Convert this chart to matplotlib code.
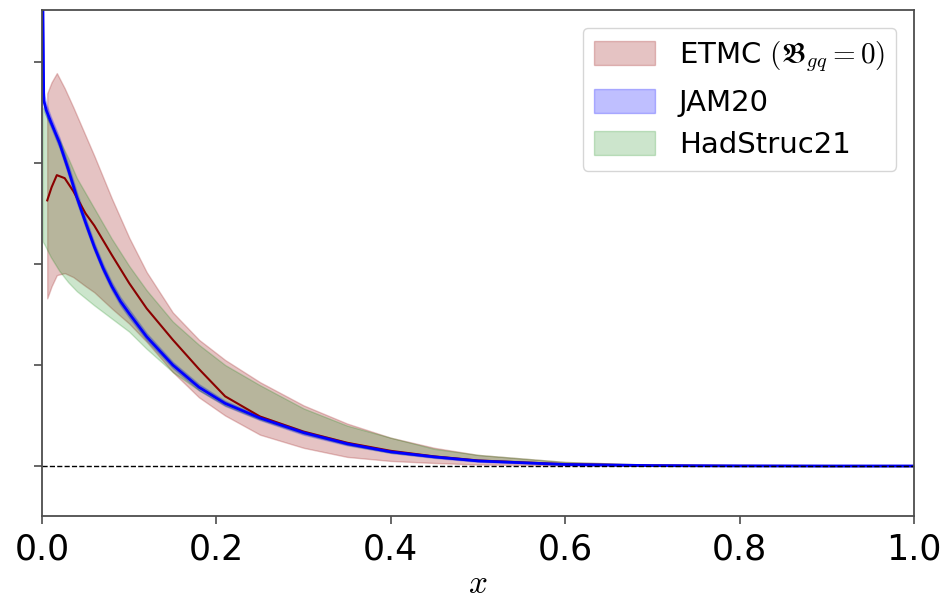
import matplotlib
matplotlib.use('Agg')
import matplotlib.pyplot as plt
import numpy as np

plt.rcParams['mathtext.fontset'] = 'cm'

# ETMC (B_gq = 0): band + central curve
x_etmc = [0.006, 0.011, 0.017, 0.026, 0.036, 0.05, 0.06, 0.08, 0.10, 0.12, 0.15, 0.18,
          0.21, 0.25, 0.30, 0.35, 0.40, 0.45, 0.50, 0.60, 0.70, 0.80, 0.90, 1.00]
etmc_mid = [2.63, 2.76, 2.88, 2.85, 2.72, 2.50, 2.38, 2.09, 1.81, 1.56, 1.25, 0.96,
            0.69, 0.49, 0.34, 0.23, 0.15, 0.095, 0.055, 0.018, 0.005, 0.001, 0.0, 0.0]
etmc_hi = [3.69, 3.80, 3.89, 3.74, 3.55, 3.27, 3.07, 2.65, 2.26, 1.92, 1.52, 1.25,
           1.05, 0.83, 0.60, 0.42, 0.28, 0.18, 0.11, 0.04, 0.012, 0.003, 0.0005, 0.0]
etmc_lo = [1.66, 1.78, 1.89, 1.91, 1.87, 1.78, 1.72, 1.56, 1.41, 1.23, 0.93, 0.68,
           0.50, 0.31, 0.18, 0.09, 0.05, 0.03, 0.015, 0.005, 0.001, 0.0, 0.0, 0.0]

# JAM20
x_jam = [0.0005, 0.002, 0.005, 0.01, 0.02, 0.03, 0.04, 0.05, 0.06, 0.07, 0.08, 0.09,
         0.10, 0.12, 0.15, 0.18, 0.21, 0.25, 0.30, 0.35, 0.40, 0.45, 0.50, 0.60, 0.70,
         0.80, 0.90, 1.00]
jam_mid = [5.0, 3.62, 3.52, 3.41, 3.20, 2.94, 2.66, 2.41, 2.17, 1.96, 1.78, 1.63,
           1.51, 1.28, 1.00, 0.78, 0.62, 0.475, 0.33, 0.22, 0.14, 0.09, 0.05, 0.015, 0.004,
           0.001, 0.0, 0.0]
jam_err = [0.3, 0.08, 0.06, 0.05, 0.05, 0.05, 0.05, 0.045, 0.04, 0.04, 0.04, 0.04,
           0.04, 0.035, 0.03, 0.03, 0.025, 0.02, 0.02, 0.015, 0.01, 0.01, 0.008, 0.005,
           0.003, 0.001, 0.0, 0.0]

# HadStruc21 band
x_had = [0.001, 0.003, 0.01, 0.02, 0.03, 0.04, 0.06, 0.08, 0.10, 0.12, 0.15, 0.18,
         0.21, 0.25, 0.30, 0.35, 0.40, 0.45, 0.50, 0.60, 0.70, 0.80, 0.90, 1.00]
had_hi = [3.55, 3.50, 3.38, 3.23, 3.05, 2.85, 2.55, 2.25, 1.98, 1.74, 1.43, 1.20,
          1.00, 0.80, 0.57, 0.40, 0.28, 0.17, 0.11, 0.04, 0.013, 0.004, 0.001, 0.0]
had_lo = [2.22, 2.19, 2.07, 1.93, 1.82, 1.73, 1.59, 1.46, 1.33, 1.16, 0.93, 0.75,
          0.60, 0.46, 0.32, 0.21, 0.13, 0.085, 0.05, 0.014, 0.004, 0.001, 0.0, 0.0]

labels = [r'ETMC $(\mathfrak{B}_{gq} = 0)$', 'JAM20', 'HadStruc21']

fig = plt.figure(figsize=(9.44, 6.03), dpi=100)
ax = fig.add_axes([0.0445, 0.1443, 0.9237, 0.8391])

jam_mid_a = np.array(jam_mid)
jam_err_a = np.array(jam_err)

ax.fill_between(x_etmc, etmc_lo, etmc_hi, color='brown', alpha=0.28, label=labels[0])
ax.fill_between(x_jam, jam_mid_a - jam_err_a, jam_mid_a + jam_err_a, color='blue',
                alpha=0.25, label=labels[1])
ax.fill_between(x_had, had_lo, had_hi, color='green', alpha=0.2, label=labels[2])

ax.plot(x_etmc, etmc_mid, color='darkred', lw=1.5)
ax.plot(x_jam, jam_mid, color='blue', lw=2)
ax.axhline(0, color='black', ls='--', lw=1)

ax.set_xlim(0, 1)
ax.set_ylim(-0.495, 4.515)
ax.set_yticks([0, 1, 2, 3, 4])
ax.set_yticklabels([])
ax.set_xticks([0.0, 0.2, 0.4, 0.6, 0.8, 1.0])
ax.tick_params(axis='x', labelsize=25, length=6, width=1.2, color='0.3', pad=6)
ax.tick_params(axis='y', length=6, width=1.2, color='0.3')
for s in ax.spines.values():
    s.set_color('0.3')
    s.set_linewidth(1.3)

ax.set_xlabel('$x$', fontsize=24, labelpad=0)

ax.legend(loc='upper right', fontsize=21, handlelength=2.1, handleheight=0.9,
          labelspacing=0.5, borderaxespad=0.6)

fig.savefig('out.png', dpi=100)
